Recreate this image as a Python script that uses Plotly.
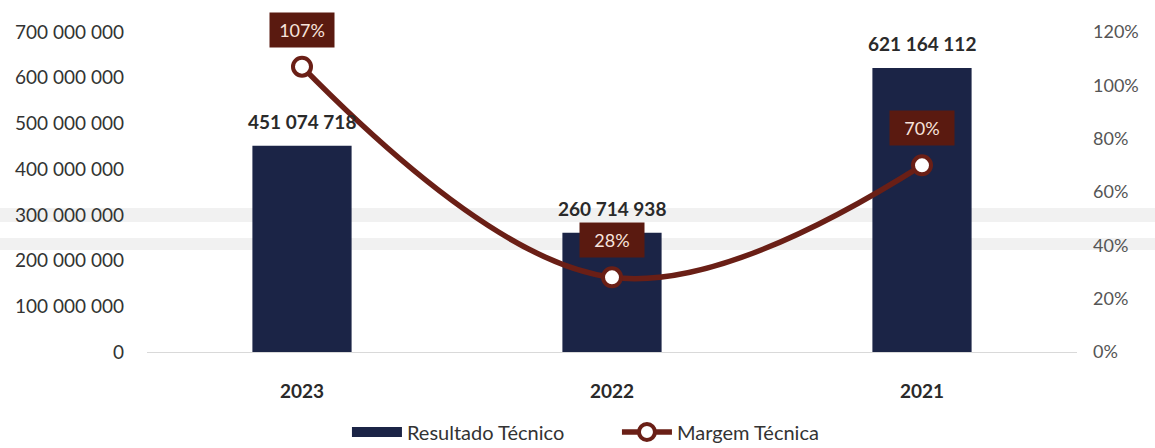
import plotly.graph_objects as go

# Data
anos = ["2023", "2022", "2021"]
resultado_tecnico = [451074718, 260714938, 621164112]
margem_tecnica = [1.07, 0.28, 0.70]
rotulos_resultado = ["451 074 718", "260 714 938", "621 164 112"]
rotulos_margem = ["107%", "28%", "70%"]

ticks_esq = [0, 100e6, 200e6, 300e6, 400e6, 500e6, 600e6, 700e6]
ticks_esq_txt = ["0", "100 000 000", "200 000 000", "300 000 000",
                 "400 000 000", "500 000 000", "600 000 000", "700 000 000"]
ticks_dir = [0, 0.2, 0.4, 0.6, 0.8, 1.0, 1.2]
ticks_dir_txt = ["0%", "20%", "40%", "60%", "80%", "100%", "120%"]

NAVY = "#1b2446"
VINHO = "#6a1f16"
CAIXA = "#5a1a10"
FONTE = "Lato, 'Open Sans', sans-serif"

fig = go.Figure()

fig.add_trace(go.Bar(
    x=anos, y=resultado_tecnico, name="Resultado Técnico",
    marker=dict(color=NAVY, line=dict(width=0)),
    width=0.32, showlegend=False,
))

# wide navy swatch for the bar series in the legend
fig.add_trace(go.Scatter(
    x=[None], y=[None], name="Resultado Técnico", mode="lines",
    line=dict(color=NAVY, width=12),
))

fig.add_trace(go.Scatter(
    x=anos, y=margem_tecnica, name="Margem Técnica", yaxis="y2",
    mode="lines+markers",
    line=dict(color=VINHO, width=5.5, shape="spline", smoothing=1.1),
    marker=dict(size=18, color="white", line=dict(color=VINHO, width=4)),
    cliponaxis=False,
))

# value labels above the bars
for i, (v, txt) in enumerate(zip(resultado_tecnico, rotulos_resultado)):
    fig.add_annotation(
        x=i, y=v, xref="x", yref="y", text=txt, showarrow=False,
        yanchor="bottom", yshift=11,
        font=dict(family=FONTE, size=19, color="#2a2a2a", weight="bold"),
    )

# percentage labels in boxes above each marker
for i, (v, txt) in enumerate(zip(margem_tecnica, rotulos_margem)):
    fig.add_annotation(
        x=i, y=v, xref="x", yref="y2", text=txt, showarrow=False,
        yshift=37, bgcolor=CAIXA, borderpad=1, width=62, height=32,
        font=dict(family=FONTE, size=18, color="#f7e3dc"),
    )

# faint horizontal streaks across the page
for y0, y1 in [(0.406, 0.45), (0.319, 0.356)]:
    fig.add_shape(
        type="rect", xref="paper", yref="paper",
        x0=-0.16, x1=1.09, y0=y0, y1=y1,
        fillcolor="rgba(190,190,190,0.22)", line=dict(width=0), layer="below",
    )

fig.update_layout(
    width=1155, height=448,
    margin=dict(l=147, r=78, t=32, b=96, autoexpand=False),
    paper_bgcolor="white", plot_bgcolor="white",
    font=dict(family=FONTE, color="#333"),
    xaxis=dict(
        type="category", range=[-0.5, 2.5],
        showgrid=False, showline=True, linecolor="#d9d9d9", linewidth=1,
        ticks="", tickfont=dict(family=FONTE, size=19, color="#2a2a2a", weight="bold"),
        ticklabelstandoff=22,
    ),
    yaxis=dict(
        range=[0, 700e6], tickvals=ticks_esq, ticktext=ticks_esq_txt,
        showgrid=False, zeroline=False, showline=False,
        tickfont=dict(family=FONTE, size=19, color="#333"),
        ticklabelstandoff=22,
    ),
    yaxis2=dict(
        range=[0, 1.2], tickvals=ticks_dir, ticktext=ticks_dir_txt,
        overlaying="y", side="right",
        showgrid=False, zeroline=False, showline=False,
        tickfont=dict(family=FONTE, size=18, color="#555"),
        ticklabelstandoff=15,
    ),
    legend=dict(
        orientation="h", x=0.215, xanchor="left", y=-0.25, yanchor="middle",
        font=dict(family=FONTE, size=20, color="#333"),
        traceorder="normal", itemwidth=50, entrywidth=205,
        bgcolor="rgba(0,0,0,0)",
    ),
)

fig.write_html("out.html")
